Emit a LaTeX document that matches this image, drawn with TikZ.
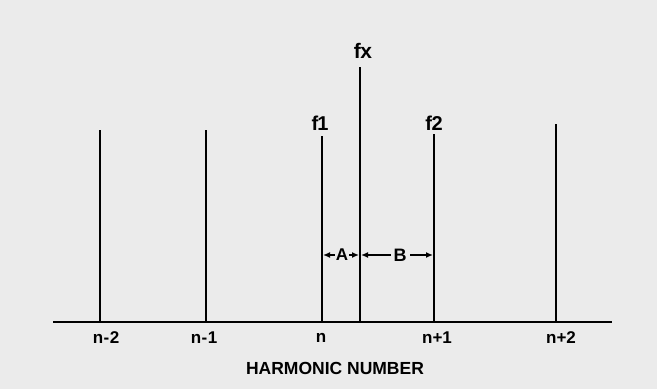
\documentclass[tikz,border=0pt]{standalone}
\usepackage{fontspec}
\setmainfont{Liberation Sans}
\usetikzlibrary{arrows.meta}
\newcommand{\fsz}[1]{\fontsize{#1}{#1}\selectfont\bfseries}
\begin{document}
\begin{tikzpicture}[x=1pt,y=-1pt,
  bar/.style={line width=2.4pt},
  axis/.style={line width=2.2pt},
  lbl/.style={font=\fsz{17}, inner sep=1pt},
  dim/.style={line width=1.6pt, {Latex[length=7pt,width=6pt]}-{Latex[length=7pt,width=6pt]}}]
\fill[black!8] (0,0) rectangle (657,389);
\useasboundingbox (0,0) rectangle (657,389);
% axis
\coordinate (axL) at (53,322);
\coordinate (axR) at (612,322);
\draw[axis] (axL) -- (axR);
% bars
\foreach \n/\x/\t in {a/100/130, b/206/130, c/322/136, x/360/67, d/434/134, e/556/124}{
  \coordinate (\n top) at (\x,\t);
  \coordinate (\n bot) at (\x,322);
  \draw[bar] (\n bot) -- (\n top);
}
% labels on bars
\node[lbl, font=\fsz{21}] (fx) at (363,51) {f\kern-0.5pt x};
\node[lbl, font=\fsz{20}] (f1) at (320,123) {f\kern-1pt 1};
\node[lbl, font=\fsz{20}] (f2) at (434,123) {f\kern-0.5pt 2};
% axis labels
\node[lbl] (l1) at (106,338) {n\kern0.5pt-\kern0.5pt2};
\node[lbl] (l2) at (204,338) {n\kern0.5pt-\kern0.5pt1};
\node[lbl] (l3) at (321,338) {n};
\node[lbl] (l4) at (437,338) {n+1};
\node[lbl] (l5) at (561,338) {n+2};
\node[lbl, font=\fsz{17.5}] (title) at (335,368.5) {HARMONIC NUMBER};
% dimension arrows
\coordinate (A1) at (323,255);
\coordinate (A2) at (359,255);
\coordinate (B1) at (361,255);
\coordinate (B2) at (433,255);
\draw[dim] (A1) -- (A2);
\draw[dim] (B1) -- (B2);
\node[lbl, font=\fsz{17}, fill=black!8, inner sep=0.5pt] (A) at (342,255) {A};
\node[lbl, font=\fsz{18}, fill=black!8, inner sep=3pt] (B) at (400,255) {B};
\end{tikzpicture}
\end{document}
